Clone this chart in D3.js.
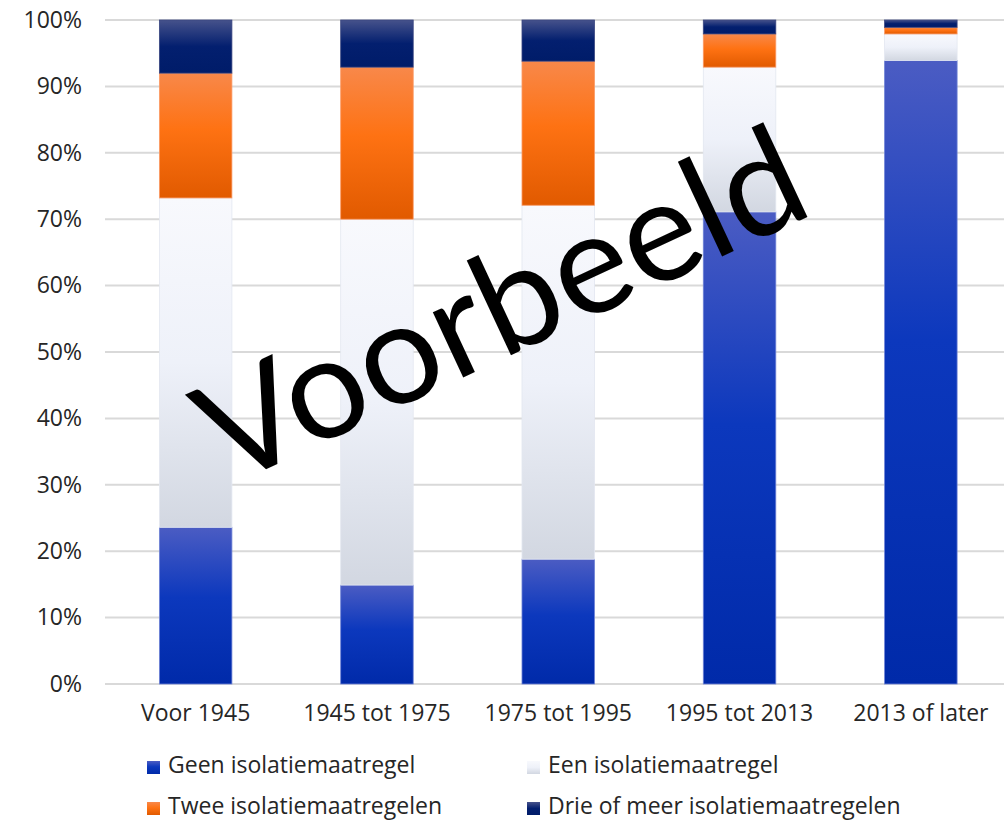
<!DOCTYPE html>
<html>
<head>
<meta charset="utf-8">
<script src="https://cdn.jsdelivr.net/npm/d3@7"></script>
<style>
  html, body { margin: 0; padding: 0; background: #fff; }
  svg { display: block; }
  text { font-family: "Open Sans", sans-serif; fill: #262626; }
</style>
</head>
<body>
<svg id="chart" width="1004" height="821"></svg>
<script>
// Share of homes per construction period by number of insulation measures (%)
const categories = ["Voor 1945", "1945 tot 1975", "1975 tot 1995", "1995 tot 2013", "2013 of later"];
const seriesNames = ["Geen isolatiemaatregel", "Een isolatiemaatregel", "Twee isolatiemaatregelen", "Drie of meer isolatiemaatregelen"];
const geen  = [23.6, 14.9, 18.8, 71.1, 93.9];
const een   = [49.6, 55.1, 53.3, 21.8, 4.0];
const twee  = [18.8, 22.9, 21.7, 5.0, 1.0];
const drie  = [8.0, 7.1, 6.2, 2.1, 1.1];
const yTicks = [0, 10, 20, 30, 40, 50, 60, 70, 80, 90, 100];

const keys = ["geen", "een", "twee", "drie"];
const rows = categories.map((c, i) => ({
  cat: c, geen: geen[i], een: een[i], twee: twee[i], drie: drie[i]
}));

const svg = d3.select("#chart");
svg.append("rect").attr("width", 1004).attr("height", 821).attr("fill", "#fff");

// Vertical gradients, one per series
const gradStops = {
  geen: [[0, "#4b5cc3"], [0.45, "#0c38bd"], [1, "#002aa9"]],
  een:  [[0, "#f8f9fd"], [0.5, "#eef1f9"], [1, "#d2d7e1"]],
  twee: [[0, "#f8884a"], [0.45, "#fe7213"], [1, "#e15a00"]],
  drie: [[0, "#46528b"], [0.5, "#031f6f"], [1, "#001c69"]]
};
const strokeCol = { geen: "#6f83d6", een: "#e3e7f0", twee: "#fb9a66", drie: "#3a4680" };
const defs = svg.append("defs");
keys.forEach(k => {
  const g = defs.append("linearGradient").attr("id", "grad-" + k)
    .attr("x1", 0).attr("y1", 0).attr("x2", 0).attr("y2", 1);
  gradStops[k].forEach(([o, c]) => g.append("stop").attr("offset", o).attr("stop-color", c));
});

const x = d3.scaleBand().domain(categories).range([105, 1011.5])
  .paddingInner(0.6).paddingOuter(0.3);
const y = d3.scaleLinear().domain([0, 100]).range([684, 20]);

// Gridlines
svg.append("g").selectAll("line").data(yTicks).join("line")
  .attr("x1", 105).attr("x2", 1004)
  .attr("y1", d => y(d)).attr("y2", d => y(d))
  .attr("stroke", "#d9d9d9").attr("stroke-width", 2);

// Y axis labels
const yAxis = d3.axisLeft(y).tickValues(yTicks).tickFormat(d => d + "%").tickSize(0).tickPadding(0);
const gy = svg.append("g").attr("transform", "translate(82,0)").call(yAxis);
gy.select(".domain").remove();
gy.selectAll("text").attr("font-size", 23).attr("fill", "#262626")
  .style("font-family", "'Open Sans', sans-serif");

// Stacked bars
const stacked = d3.stack().keys(keys)(rows);
svg.append("g").selectAll("g").data(stacked).join("g")
  .each(function(layer) {
    d3.select(this).selectAll("rect").data(layer).join("rect")
      .attr("x", d => x(d.data.cat))
      .attr("width", x.bandwidth())
      .attr("y", d => y(d[1]))
      .attr("height", d => y(d[0]) - y(d[1]))
      .attr("fill", "url(#grad-" + layer.key + ")")
      .attr("stroke", strokeCol[layer.key])
      .attr("stroke-width", 0.8);
  });

// X axis labels
const xAxis = d3.axisBottom(x).tickSize(0).tickPadding(0);
const gx = svg.append("g").attr("transform", "translate(0,713)").call(xAxis);
gx.select(".domain").remove();
gx.selectAll("text").attr("font-size", 23).attr("fill", "#262626")
  .attr("dy", "0.35em").attr("y", 0)
  .style("font-family", "'Open Sans', sans-serif");

// Legend
const legendPos = [
  { sx: 147, tx: 168, cy: 765 },
  { sx: 527, tx: 548, cy: 765 },
  { sx: 147, tx: 168, cy: 806 },
  { sx: 527, tx: 548, cy: 806 }
];
const lg = svg.append("g").selectAll("g").data(keys).join("g");
lg.append("rect")
  .attr("x", (d, i) => legendPos[i].sx)
  .attr("y", (d, i) => legendPos[i].cy - 4)
  .attr("width", 13).attr("height", 13)
  .attr("fill", d => "url(#grad-" + d + ")");
lg.append("text")
  .attr("x", (d, i) => legendPos[i].tx)
  .attr("y", (d, i) => legendPos[i].cy)
  .attr("dy", "0.35em")
  .attr("font-size", 23)
  .text((d, i) => seriesNames[i]);

// Watermark
svg.append("text")
  .attr("transform", "translate(522,350) rotate(-25)")
  .attr("text-anchor", "middle")
  .attr("textLength", 650)
  .attr("lengthAdjust", "spacingAndGlyphs")
  .style("font-family", "Lato, sans-serif")
  .style("fill", "#000")
  .attr("font-size", 142)
  .text("Voorbeeld");
</script>
</body>
</html>
